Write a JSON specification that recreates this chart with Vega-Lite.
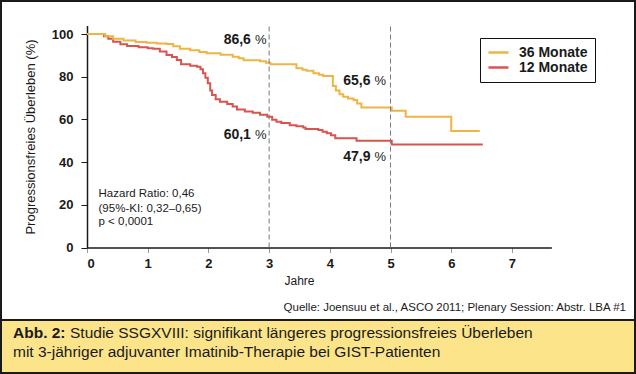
{
  "$schema": "https://vega.github.io/schema/vega-lite/v6.json",
  "padding": 0,
  "spacing": 0,
  "bounds": "flush",
  "background": "white",
  "config": {
    "font": "Liberation Sans",
    "axis": {"labelColor": "#1a1a1a", "titleColor": "#1a1a1a", "domainColor": "#1a1a1a", "tickColor": "#1a1a1a", "grid": false},
    "text": {"color": "#1a1a1a"}
  },
  "datasets": {
    "km": [
      {"arm": "12 Monate", "t": 0, "s": 100},
      {"arm": "12 Monate", "t": 0.2, "s": 100},
      {"arm": "12 Monate", "t": 0.28, "s": 99},
      {"arm": "12 Monate", "t": 0.35, "s": 97.8},
      {"arm": "12 Monate", "t": 0.43, "s": 96.4},
      {"arm": "12 Monate", "t": 0.55, "s": 95.2},
      {"arm": "12 Monate", "t": 0.66, "s": 94.4},
      {"arm": "12 Monate", "t": 0.85, "s": 93.8},
      {"arm": "12 Monate", "t": 1.0, "s": 93.4},
      {"arm": "12 Monate", "t": 1.09, "s": 93.1},
      {"arm": "12 Monate", "t": 1.2, "s": 91.8},
      {"arm": "12 Monate", "t": 1.31, "s": 90.2},
      {"arm": "12 Monate", "t": 1.4, "s": 89.2},
      {"arm": "12 Monate", "t": 1.48, "s": 87.8},
      {"arm": "12 Monate", "t": 1.55, "s": 85.8},
      {"arm": "12 Monate", "t": 1.7, "s": 85.2},
      {"arm": "12 Monate", "t": 1.81, "s": 84.7},
      {"arm": "12 Monate", "t": 1.87, "s": 83.5},
      {"arm": "12 Monate", "t": 1.91, "s": 81.6},
      {"arm": "12 Monate", "t": 1.95, "s": 79.5},
      {"arm": "12 Monate", "t": 1.99, "s": 76.9},
      {"arm": "12 Monate", "t": 2.03, "s": 73.5},
      {"arm": "12 Monate", "t": 2.06, "s": 71.4},
      {"arm": "12 Monate", "t": 2.12, "s": 69.5},
      {"arm": "12 Monate", "t": 2.19, "s": 68.3},
      {"arm": "12 Monate", "t": 2.31, "s": 67.2},
      {"arm": "12 Monate", "t": 2.4, "s": 66.0},
      {"arm": "12 Monate", "t": 2.47, "s": 64.7},
      {"arm": "12 Monate", "t": 2.6, "s": 63.7},
      {"arm": "12 Monate", "t": 2.73, "s": 63.1},
      {"arm": "12 Monate", "t": 2.85, "s": 62.2},
      {"arm": "12 Monate", "t": 2.97, "s": 61.3},
      {"arm": "12 Monate", "t": 3.05, "s": 59.8},
      {"arm": "12 Monate", "t": 3.12, "s": 58.9},
      {"arm": "12 Monate", "t": 3.2, "s": 58.3},
      {"arm": "12 Monate", "t": 3.34, "s": 57.3},
      {"arm": "12 Monate", "t": 3.45, "s": 56.8},
      {"arm": "12 Monate", "t": 3.56, "s": 56.2},
      {"arm": "12 Monate", "t": 3.6, "s": 55.5},
      {"arm": "12 Monate", "t": 3.81, "s": 55.0},
      {"arm": "12 Monate", "t": 3.88, "s": 54.2},
      {"arm": "12 Monate", "t": 3.95, "s": 53.5},
      {"arm": "12 Monate", "t": 4.02, "s": 52.6},
      {"arm": "12 Monate", "t": 4.09, "s": 51.2},
      {"arm": "12 Monate", "t": 4.44, "s": 50.0},
      {"arm": "12 Monate", "t": 5.02, "s": 48.2},
      {"arm": "12 Monate", "t": 6.52, "s": 48.2},
      {"arm": "36 Monate", "t": 0, "s": 100},
      {"arm": "36 Monate", "t": 0.2, "s": 100},
      {"arm": "36 Monate", "t": 0.3, "s": 99.0},
      {"arm": "36 Monate", "t": 0.43, "s": 97.8},
      {"arm": "36 Monate", "t": 0.6, "s": 97.0},
      {"arm": "36 Monate", "t": 0.8, "s": 96.3},
      {"arm": "36 Monate", "t": 0.98, "s": 95.9},
      {"arm": "36 Monate", "t": 1.15, "s": 95.6},
      {"arm": "36 Monate", "t": 1.31, "s": 95.3},
      {"arm": "36 Monate", "t": 1.42, "s": 94.3},
      {"arm": "36 Monate", "t": 1.53, "s": 93.1},
      {"arm": "36 Monate", "t": 1.7, "s": 92.4},
      {"arm": "36 Monate", "t": 1.85, "s": 91.6},
      {"arm": "36 Monate", "t": 1.97, "s": 91.0},
      {"arm": "36 Monate", "t": 2.2, "s": 90.3},
      {"arm": "36 Monate", "t": 2.4, "s": 89.4},
      {"arm": "36 Monate", "t": 2.5, "s": 88.6},
      {"arm": "36 Monate", "t": 2.58, "s": 87.7},
      {"arm": "36 Monate", "t": 2.85, "s": 87.2},
      {"arm": "36 Monate", "t": 2.95, "s": 86.6},
      {"arm": "36 Monate", "t": 3.02, "s": 85.8},
      {"arm": "36 Monate", "t": 3.45, "s": 84.0},
      {"arm": "36 Monate", "t": 3.55, "s": 83.3},
      {"arm": "36 Monate", "t": 3.62, "s": 82.8},
      {"arm": "36 Monate", "t": 3.73, "s": 81.6},
      {"arm": "36 Monate", "t": 3.82, "s": 80.9},
      {"arm": "36 Monate", "t": 3.89, "s": 80.3},
      {"arm": "36 Monate", "t": 4.05, "s": 75.6},
      {"arm": "36 Monate", "t": 4.1, "s": 73.5},
      {"arm": "36 Monate", "t": 4.16, "s": 71.8},
      {"arm": "36 Monate", "t": 4.22, "s": 70.6},
      {"arm": "36 Monate", "t": 4.3, "s": 69.8},
      {"arm": "36 Monate", "t": 4.39, "s": 69.1},
      {"arm": "36 Monate", "t": 4.45, "s": 67.5},
      {"arm": "36 Monate", "t": 4.52, "s": 65.6},
      {"arm": "36 Monate", "t": 5.02, "s": 64.1},
      {"arm": "36 Monate", "t": 5.25, "s": 61.3},
      {"arm": "36 Monate", "t": 6.0, "s": 54.6},
      {"arm": "36 Monate", "t": 6.47, "s": 54.6}
    ],
    "marks": [
      {"yr": 3},
      {"yr": 5}
    ],
    "rates": [
      {"t": 2.7, "v": 97.2, "num": "86,6"},
      {"t": 2.7, "v": 52.7, "num": "60,1"},
      {"t": 4.67, "v": 77.8, "num": "65,6"},
      {"t": 4.67, "v": 42.2, "num": "47,9"}
    ],
    "stats": [
      {"t": 0.19, "v": 25.1, "txt": "Hazard Ratio: 0,46"},
      {"t": 0.19, "v": 18.0, "txt": "(95%-KI: 0,32–0,65)"},
      {"t": 0.19, "v": 12.1, "txt": "p < 0,0001"}
    ],
    "caption": [
      {"line": 1, "part": "bold", "text": "Abb. 2:"},
      {"line": 1, "part": "lead", "text": "Studie SSGXVIII: signifikant längeres progressionsfreies Überleben"},
      {"line": 2, "part": "body", "text": "mit 3-jähriger adjuvanter Imatinib-Therapie bei GIST-Patienten"}
    ]
  },
  "vconcat": [
    {
      "width": 634,
      "height": 319,
      "view": {"fill": "white", "stroke": "#1a1a1a", "strokeWidth": 2},
      "layer": [
        {
          "data": {"name": "km"},
          "mark": {"type": "line", "interpolate": "step-after", "strokeWidth": 2},
          "encoding": {
            "x": {
              "field": "t", "type": "quantitative",
              "scale": {"domain": [0, 7.65], "range": [86, 550.4], "nice": false, "zero": false},
              "axis": {"values": [0, 1, 2, 3, 4, 5, 6, 7], "format": "d", "title": "Jahre", "offset": -72.5, "labelFontWeight": "bold", "labelFontSize": 13, "tickSize": 5, "labelPadding": 5, "tickColor": "#8aa0b0", "domainWidth": 1.5, "titleFontWeight": "normal", "titleFontSize": 12, "titleX": 298, "titlePadding": 5}
            },
            "y": {
              "field": "s", "type": "quantitative",
              "scale": {"domain": [0, 104], "range": [246.5, 24.5], "nice": false, "zero": false},
              "axis": {"values": [0, 20, 40, 60, 80, 100], "format": "d", "title": "Progressionsfreies Überleben (%)", "offset": -86, "labelFontWeight": "bold", "labelFontSize": 13, "tickSize": 6, "labelPadding": 8, "domainWidth": 1.5, "titleFontWeight": "normal", "titleFontSize": 13, "titlePadding": 14}
            },
            "color": {
              "field": "arm", "type": "nominal",
              "scale": {"domain": ["36 Monate", "12 Monate"], "range": ["#EFB443", "#D9534F"]},
              "legend": {"title": null, "orient": "none", "legendX": 479, "legendY": 37, "symbolType": "stroke", "symbolSize": 400, "symbolStrokeWidth": 2.5, "labelFontSize": 14, "labelFontWeight": "bold", "labelColor": "#1a1a1a", "strokeColor": "#111111", "fillColor": "white", "padding": 7, "clipHeight": 15, "rowPadding": 0, "labelOffset": 9}
            }
          }
        },
        {
          "data": {"name": "marks"},
          "mark": {"type": "rule", "color": "#777777", "strokeWidth": 1, "strokeDash": [5, 3]},
          "encoding": {
            "x": {"field": "yr", "type": "quantitative"},
            "y": {"datum": 0},
            "y2": {"datum": 104}
          }
        },
        {
          "data": {"name": "rates"},
          "mark": {"type": "text", "align": "right", "baseline": "middle", "fontWeight": "bold", "fontSize": 14},
          "encoding": {
            "x": {"field": "t", "type": "quantitative"},
            "y": {"field": "v", "type": "quantitative"},
            "text": {"field": "num"}
          }
        },
        {
          "data": {"name": "rates"},
          "mark": {"type": "text", "align": "left", "baseline": "middle", "fontWeight": "normal", "fontSize": 13, "dx": 4},
          "encoding": {
            "x": {"field": "t", "type": "quantitative"},
            "y": {"field": "v", "type": "quantitative"},
            "text": {"value": "%"}
          }
        },
        {
          "data": {"name": "stats"},
          "mark": {"type": "text", "align": "left", "baseline": "middle", "fontSize": 11.5},
          "encoding": {
            "x": {"field": "t", "type": "quantitative"},
            "y": {"field": "v", "type": "quantitative"},
            "text": {"field": "txt"}
          }
        }
      ]
    },
    {
      "width": 634,
      "height": 53,
      "view": {"fill": "#FCE48A", "stroke": "#1a1a1a", "strokeWidth": 2},
      "title": {"text": "Quelle: Joensuu et al., ASCO 2011; Plenary Session: Abstr. LBA #1", "orient": "top", "anchor": "end", "offset": 7, "fontSize": 11.5, "fontWeight": "normal", "color": "#1a1a1a", "dx": -9},
      "data": {"name": "caption"},
      "layer": [
        {
          "transform": [{"filter": "datum.part == 'bold'"}],
          "mark": {"type": "text", "align": "left", "baseline": "middle", "fontWeight": "bold", "fontSize": 15.5, "dx": 12},
          "encoding": {
            "x": {"datum": 0, "type": "quantitative", "scale": {"domain": [0, 1], "nice": false, "zero": false}, "axis": null},
            "y": {"field": "line", "type": "quantitative", "axis": null, "scale": {"domain": [0.305, 3.139], "reverse": true, "nice": false, "zero": false}},
            "text": {"field": "text"}
          }
        },
        {
          "transform": [{"filter": "datum.part == 'lead'"}],
          "mark": {"type": "text", "align": "left", "baseline": "middle", "fontWeight": "normal", "fontSize": 15.5, "dx": 69},
          "encoding": {
            "x": {"datum": 0, "type": "quantitative"},
            "y": {"field": "line", "type": "quantitative"},
            "text": {"field": "text"}
          }
        },
        {
          "transform": [{"filter": "datum.part == 'body'"}],
          "mark": {"type": "text", "align": "left", "baseline": "middle", "fontWeight": "normal", "fontSize": 15.5, "dx": 12},
          "encoding": {
            "x": {"datum": 0, "type": "quantitative"},
            "y": {"field": "line", "type": "quantitative"},
            "text": {"field": "text"}
          }
        }
      ]
    }
  ]
}
